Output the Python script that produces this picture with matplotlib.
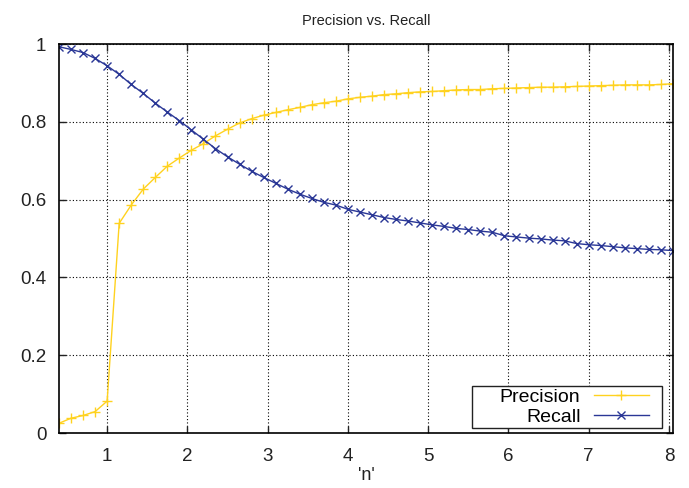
import matplotlib
matplotlib.use("Agg")
import matplotlib.pyplot as plt
from matplotlib.patches import Rectangle

plt.rcParams['font.family'] = ['Liberation Sans', 'DejaVu Sans']

# sample positions along 'n'
n_vals = [0.4, 0.55, 0.7, 0.85, 1.0, 1.15, 1.3, 1.45, 1.6, 1.75,
          1.9, 2.05, 2.2, 2.35, 2.5, 2.65, 2.8, 2.95, 3.1, 3.25,
          3.4, 3.55, 3.7, 3.85, 4.0, 4.15, 4.3, 4.45, 4.6, 4.75,
          4.9, 5.05, 5.2, 5.35, 5.5, 5.65, 5.8, 5.95, 6.1, 6.25,
          6.4, 6.55, 6.7, 6.85, 7.0, 7.15, 7.3, 7.45, 7.6, 7.75,
          7.9, 8.05]

precision = [0.025, 0.038, 0.045, 0.055, 0.082, 0.539, 0.586, 0.627, 0.657, 0.686,
             0.707, 0.727, 0.744, 0.764, 0.781, 0.797, 0.808, 0.817, 0.824, 0.831,
             0.837, 0.844, 0.849, 0.853, 0.859, 0.863, 0.866, 0.870, 0.872, 0.875,
             0.877, 0.878, 0.880, 0.882, 0.883, 0.883, 0.885, 0.886, 0.887, 0.888,
             0.889, 0.889, 0.890, 0.891, 0.892, 0.893, 0.894, 0.895, 0.895, 0.895,
             0.896, 0.898]

recall = [0.993, 0.986, 0.978, 0.963, 0.944, 0.922, 0.896, 0.873, 0.848, 0.825,
          0.803, 0.779, 0.755, 0.731, 0.710, 0.691, 0.673, 0.657, 0.642, 0.627,
          0.614, 0.603, 0.593, 0.586, 0.575, 0.568, 0.561, 0.554, 0.549, 0.545,
          0.540, 0.535, 0.531, 0.526, 0.523, 0.519, 0.516, 0.507, 0.504, 0.501,
          0.499, 0.496, 0.494, 0.487, 0.484, 0.482, 0.479, 0.476, 0.474, 0.472,
          0.471, 0.469]

x_ticks = [1, 2, 3, 4, 5, 6, 7, 8]
y_ticks = [0, 0.2, 0.4, 0.6, 0.8, 1]
y_labels = ['0', '0.2', '0.4', '0.6', '0.8', '1']

fig = plt.figure(figsize=(6.89, 4.88), dpi=100)
ax = fig.add_axes([0.0856, 0.1127, 0.8912, 0.7971])

ax.plot(n_vals, precision, color='#ffd21f', lw=1.0, marker='+', ms=7, mew=1.0,
        label='Precision')
ax.plot(n_vals, recall, color='#2a3796', lw=1.0, marker='x', ms=6, mew=1.0,
        label='Recall')

ax.set_xlim(0.4, 8.05)
ax.set_ylim(0, 1)
ax.set_xticks(x_ticks)
ax.set_yticks(y_ticks)
ax.set_yticklabels(y_labels)
ax.tick_params(direction='in', length=5, width=1, top=True, right=True,
               labelsize=13.5, colors='#222222')
ax.tick_params(axis='y', pad=9)
ax.tick_params(axis='x', pad=11)
ax.grid(True, color='black', linestyle=(0, (1, 2)), lw=0.8)
for sp in ax.spines.values():
    sp.set_linewidth(1.2)

ax.set_title('Precision vs. Recall', fontsize=10.5, pad=14, color='#222222')
ax.set_xlabel("'n'", fontsize=13, labelpad=1, color='#222222')

# key box, gnuplot style: wide frame with right-aligned labels
ax.add_patch(Rectangle((0.6726, 0.0129), 0.3094, 0.1079, transform=ax.transAxes,
                       fill=True, facecolor='white', edgecolor='#222222',
                       lw=1.0, zorder=4))
leg = ax.legend(loc='center right', bbox_to_anchor=(0.961, 0.0669),
                markerfirst=False, fontsize=14, handlelength=2.85,
                handletextpad=0.68, labelspacing=0.15, borderpad=0,
                borderaxespad=0, frameon=False)
leg.set_zorder(5)

fig.savefig('out.png', dpi=100)
